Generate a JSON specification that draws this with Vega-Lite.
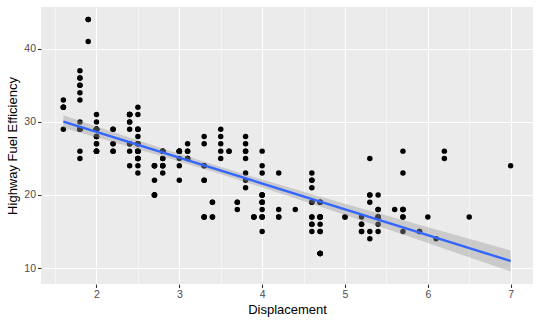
{
  "$schema": "https://vega.github.io/schema/vega-lite/v6.json",
  "width": 492,
  "height": 277,
  "autosize": {"type": "none"},
  "padding": {"left": 41, "top": 7, "right": 7, "bottom": 40},
  "background": "white",
  "config": {
    "view": {"fill": "#EBEBEB", "stroke": null},
    "font": "Liberation Sans",
    "axis": {
      "domain": false,
      "tickColor": "#333333",
      "tickSize": 3.5,
      "tickWidth": 1.1,
      "gridColor": "#FFFFFF",
      "labelColor": "#4D4D4D",
      "labelFontSize": 10.5,
      "labelPadding": 2,
      "labelOverlap": false,
      "labelFlush": false,
      "titleFontSize": 13,
      "titleColor": "#000000",
      "titleFontWeight": "normal",
      "labelFont": "Liberation Sans",
      "titleFont": "Liberation Sans"
    }
  },
  "datasets": {
    "mpg": [
      {"displ":1.8,"hwy":29},{"displ":1.8,"hwy":29},{"displ":2.0,"hwy":31},{"displ":2.0,"hwy":30},{"displ":2.8,"hwy":26},{"displ":2.8,"hwy":26},{"displ":3.1,"hwy":27},{"displ":1.8,"hwy":26},{"displ":1.8,"hwy":25},{"displ":2.0,"hwy":28},
      {"displ":2.0,"hwy":27},{"displ":2.8,"hwy":25},{"displ":2.8,"hwy":25},{"displ":3.1,"hwy":25},{"displ":3.1,"hwy":25},{"displ":2.8,"hwy":24},{"displ":3.1,"hwy":25},{"displ":4.2,"hwy":23},{"displ":5.3,"hwy":20},{"displ":5.3,"hwy":15},
      {"displ":5.3,"hwy":20},{"displ":5.7,"hwy":17},{"displ":6.0,"hwy":17},{"displ":5.7,"hwy":26},{"displ":5.7,"hwy":23},{"displ":6.2,"hwy":26},{"displ":6.2,"hwy":25},{"displ":7.0,"hwy":24},{"displ":5.3,"hwy":19},{"displ":5.3,"hwy":14},
      {"displ":5.7,"hwy":15},{"displ":6.5,"hwy":17},{"displ":2.4,"hwy":27},{"displ":2.4,"hwy":30},{"displ":3.1,"hwy":26},{"displ":3.5,"hwy":29},{"displ":3.6,"hwy":26},{"displ":2.4,"hwy":24},{"displ":3.0,"hwy":24},{"displ":3.3,"hwy":22},
      {"displ":3.3,"hwy":22},{"displ":3.3,"hwy":24},{"displ":3.3,"hwy":24},{"displ":3.3,"hwy":17},{"displ":3.8,"hwy":22},{"displ":3.8,"hwy":21},{"displ":3.8,"hwy":23},{"displ":4.0,"hwy":23},{"displ":3.7,"hwy":19},{"displ":3.7,"hwy":18},
      {"displ":3.9,"hwy":17},{"displ":3.9,"hwy":17},{"displ":4.7,"hwy":19},{"displ":4.7,"hwy":19},{"displ":4.7,"hwy":12},{"displ":5.2,"hwy":17},{"displ":5.2,"hwy":15},{"displ":3.9,"hwy":17},{"displ":4.7,"hwy":17},{"displ":4.7,"hwy":12},
      {"displ":4.7,"hwy":17},{"displ":5.2,"hwy":16},{"displ":5.7,"hwy":18},{"displ":5.9,"hwy":15},{"displ":4.7,"hwy":16},{"displ":4.7,"hwy":12},{"displ":4.7,"hwy":17},{"displ":4.7,"hwy":17},{"displ":4.7,"hwy":12},{"displ":4.7,"hwy":15},
      {"displ":5.2,"hwy":16},{"displ":5.2,"hwy":15},{"displ":5.7,"hwy":17},{"displ":5.9,"hwy":15},{"displ":4.6,"hwy":17},{"displ":5.4,"hwy":17},{"displ":5.4,"hwy":18},{"displ":4.0,"hwy":17},{"displ":4.0,"hwy":19},{"displ":4.0,"hwy":17},
      {"displ":4.0,"hwy":19},{"displ":4.6,"hwy":19},{"displ":5.0,"hwy":17},{"displ":4.2,"hwy":17},{"displ":4.2,"hwy":17},{"displ":4.6,"hwy":16},{"displ":4.6,"hwy":16},{"displ":4.6,"hwy":17},{"displ":5.4,"hwy":15},{"displ":5.4,"hwy":17},
      {"displ":3.8,"hwy":26},{"displ":3.8,"hwy":25},{"displ":4.0,"hwy":26},{"displ":4.0,"hwy":24},{"displ":4.6,"hwy":21},{"displ":4.6,"hwy":22},{"displ":4.6,"hwy":23},{"displ":4.6,"hwy":22},{"displ":5.4,"hwy":20},{"displ":1.6,"hwy":33},
      {"displ":1.6,"hwy":32},{"displ":1.6,"hwy":32},{"displ":1.6,"hwy":29},{"displ":1.6,"hwy":32},{"displ":1.8,"hwy":34},{"displ":1.8,"hwy":36},{"displ":1.8,"hwy":36},{"displ":2.0,"hwy":29},{"displ":2.4,"hwy":26},{"displ":2.4,"hwy":27},
      {"displ":2.4,"hwy":30},{"displ":2.4,"hwy":31},{"displ":2.5,"hwy":26},{"displ":2.5,"hwy":26},{"displ":3.3,"hwy":28},{"displ":2.0,"hwy":26},{"displ":2.0,"hwy":29},{"displ":2.0,"hwy":28},{"displ":2.0,"hwy":27},{"displ":2.7,"hwy":24},
      {"displ":2.7,"hwy":24},{"displ":2.7,"hwy":24},{"displ":3.0,"hwy":22},{"displ":3.7,"hwy":19},{"displ":4.0,"hwy":20},{"displ":4.7,"hwy":17},{"displ":4.7,"hwy":12},{"displ":4.7,"hwy":19},{"displ":5.7,"hwy":18},{"displ":6.1,"hwy":14},
      {"displ":4.0,"hwy":15},{"displ":4.2,"hwy":18},{"displ":4.4,"hwy":18},{"displ":4.6,"hwy":15},{"displ":5.4,"hwy":17},{"displ":5.4,"hwy":16},{"displ":5.4,"hwy":18},{"displ":4.0,"hwy":17},{"displ":4.0,"hwy":19},{"displ":4.6,"hwy":19},
      {"displ":5.0,"hwy":17},{"displ":2.4,"hwy":29},{"displ":2.4,"hwy":27},{"displ":2.5,"hwy":31},{"displ":2.5,"hwy":32},{"displ":3.5,"hwy":27},{"displ":3.5,"hwy":26},{"displ":3.0,"hwy":26},{"displ":3.0,"hwy":25},{"displ":3.5,"hwy":25},
      {"displ":3.3,"hwy":17},{"displ":3.3,"hwy":17},{"displ":4.0,"hwy":20},{"displ":5.6,"hwy":18},{"displ":3.1,"hwy":26},{"displ":3.8,"hwy":26},{"displ":3.8,"hwy":27},{"displ":3.8,"hwy":28},{"displ":5.3,"hwy":25},{"displ":2.5,"hwy":25},
      {"displ":2.5,"hwy":24},{"displ":2.5,"hwy":27},{"displ":2.5,"hwy":25},{"displ":2.5,"hwy":26},{"displ":2.5,"hwy":23},{"displ":2.2,"hwy":26},{"displ":2.2,"hwy":26},{"displ":2.5,"hwy":26},{"displ":2.5,"hwy":26},{"displ":2.5,"hwy":25},
      {"displ":2.5,"hwy":27},{"displ":2.5,"hwy":25},{"displ":2.5,"hwy":27},{"displ":2.7,"hwy":20},{"displ":2.7,"hwy":20},{"displ":3.4,"hwy":19},{"displ":3.4,"hwy":17},{"displ":4.0,"hwy":20},{"displ":4.7,"hwy":17},{"displ":2.2,"hwy":29},
      {"displ":2.2,"hwy":27},{"displ":2.4,"hwy":31},{"displ":2.4,"hwy":31},{"displ":3.0,"hwy":26},{"displ":3.0,"hwy":26},{"displ":3.5,"hwy":28},{"displ":2.2,"hwy":27},{"displ":2.2,"hwy":29},{"displ":2.4,"hwy":31},{"displ":2.4,"hwy":31},
      {"displ":3.0,"hwy":26},{"displ":3.0,"hwy":26},{"displ":3.3,"hwy":27},{"displ":1.8,"hwy":30},{"displ":1.8,"hwy":33},{"displ":1.8,"hwy":35},{"displ":1.8,"hwy":37},{"displ":1.8,"hwy":35},{"displ":4.7,"hwy":15},{"displ":5.7,"hwy":18},
      {"displ":2.7,"hwy":20},{"displ":2.7,"hwy":20},{"displ":2.7,"hwy":22},{"displ":3.4,"hwy":17},{"displ":3.4,"hwy":19},{"displ":4.0,"hwy":18},{"displ":4.0,"hwy":20},{"displ":2.0,"hwy":29},{"displ":2.0,"hwy":26},{"displ":2.0,"hwy":29},
      {"displ":2.0,"hwy":29},{"displ":2.8,"hwy":24},{"displ":1.9,"hwy":44},{"displ":2.0,"hwy":29},{"displ":2.0,"hwy":26},{"displ":2.0,"hwy":29},{"displ":2.0,"hwy":29},{"displ":2.5,"hwy":29},{"displ":2.5,"hwy":29},{"displ":2.8,"hwy":23},
      {"displ":2.8,"hwy":24},{"displ":1.9,"hwy":44},{"displ":1.9,"hwy":41},{"displ":2.0,"hwy":29},{"displ":2.0,"hwy":26},{"displ":2.5,"hwy":28},{"displ":2.5,"hwy":29},{"displ":1.8,"hwy":29},{"displ":1.8,"hwy":29},{"displ":2.0,"hwy":28},
      {"displ":2.0,"hwy":29},{"displ":2.8,"hwy":26},{"displ":2.8,"hwy":26},{"displ":3.6,"hwy":26}
    ],
    "band": [
      {"displ":1.6,"lo":29.18,"hi":30.92},
      {"displ":2.2,"lo":27.24,"hi":28.62},
      {"displ":2.8,"lo":25.25,"hi":26.37},
      {"displ":3.4,"lo":23.20,"hi":24.19},
      {"displ":4.0,"lo":21.04,"hi":22.11},
      {"displ":4.6,"lo":18.80,"hi":20.11},
      {"displ":5.2,"lo":16.51,"hi":18.16},
      {"displ":5.8,"lo":14.20,"hi":16.24},
      {"displ":6.4,"lo":11.87,"hi":14.33},
      {"displ":7.0,"lo":9.54,"hi":12.42}
    ]
  },
  "encoding": {
    "x": {
      "field": "displ",
      "type": "quantitative",
      "scale": {"domain": [1.33, 7.27], "nice": false, "zero": false},
      "axis": {
        "title": "Displacement",
        "titlePadding": 3,
        "values": [1.5, 2, 2.5, 3, 3.5, 4, 4.5, 5, 5.5, 6, 6.5, 7],
        "labelExpr": "datum.value % 1 == 0 ? format(datum.value, 'd') : ''",
        "gridWidth": {"condition": {"test": "datum.value % 1 != 0", "value": 0.55}, "value": 1.1},
        "tickOpacity": {"condition": {"test": "datum.value % 1 != 0", "value": 0}, "value": 1}
      }
    }
  },
  "layer": [
    {
      "data": {"name": "mpg"},
      "mark": {"type": "circle", "color": "#000000", "opacity": 1, "size": 30},
      "encoding": {
        "y": {
          "field": "hwy",
          "type": "quantitative",
          "scale": {"domain": [7.82, 45.72], "nice": false, "zero": false},
          "axis": {
            "title": "Highway Fuel Efficiency",
            "titlePadding": 4,
            "values": [10, 15, 20, 25, 30, 35, 40, 45],
            "labelExpr": "datum.value % 10 == 0 ? format(datum.value, 'd') : ''",
            "gridWidth": {"condition": {"test": "datum.value % 10 != 0", "value": 0.55}, "value": 1.1},
            "tickOpacity": {"condition": {"test": "datum.value % 10 != 0", "value": 0}, "value": 1}
          }
        }
      }
    },
    {
      "data": {"name": "band"},
      "mark": {"type": "area", "color": "#999999", "opacity": 0.4},
      "encoding": {
        "y": {"field": "lo", "type": "quantitative", "title": "Highway Fuel Efficiency"},
        "y2": {"field": "hi"}
      }
    },
    {
      "data": {"name": "mpg"},
      "transform": [{"regression": "hwy", "on": "displ", "extent": [1.6, 7.0]}],
      "mark": {"type": "line", "color": "#3366FF", "strokeWidth": 2.4},
      "encoding": {
        "y": {"field": "hwy", "type": "quantitative", "title": "Highway Fuel Efficiency"}
      }
    }
  ]
}
